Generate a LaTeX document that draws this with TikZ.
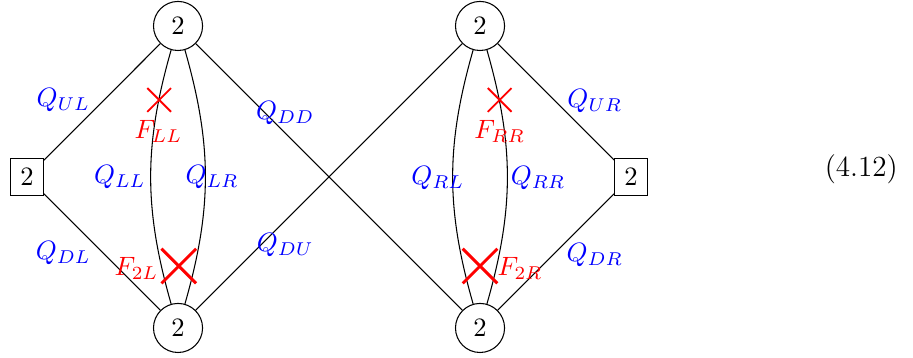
\documentclass[tikz,border=0pt]{standalone}
\usetikzlibrary{shapes.misc}

\tikzset{%
  gauge/.style={
    circle,
    draw,
    minimum size=0.65cm,
    inner sep=0pt
  },
  flavor/.style={
    rectangle,
    draw,
    inner sep=3.6pt
  },
  field/.style={text=blue},
  fterm/.style={text=red},
  fcross/.style={
    cross out,
    draw=red,
    line width=0.7pt,
    minimum size=0.29cm,
    inner sep=0pt
  },
  fcross big/.style={
    cross out,
    draw=red,
    line width=1.1pt,
    minimum size=0.42cm,
    inner sep=0pt
  },
}

\begin{document}
\begin{tikzpicture}
\useasboundingbox (-0.358,-2.397) rectangle (11.735,2.344);
\node[flavor] (fl) at (0,0) {2};
\node[gauge] (ul) at (2,2) {2};
\node[gauge] (dl) at (2,-2) {2};
\node[gauge] (ur) at (6,2) {2};
\node[gauge] (dr) at (6,-2) {2};
\node[flavor] (fr) at (8,0) {2};
\draw (fl) -- (ul);
\draw (fl) -- (dl);
\draw (ul) -- (dr);
\draw (dl) -- (ur);
\draw (ur) -- (fr);
\draw (dr) -- (fr);
\draw (ul) to[bend right=16] (dl);
\draw (ul) to[bend left=16] (dl);
\draw (ur) to[bend right=16] (dr);
\draw (ur) to[bend left=16] (dr);
\node[field] (qul) at (0.48,1.02) {$Q_{UL}$};
\node[field] (qdl) at (0.48,-1.01) {$Q_{DL}$};
\node[field] (qll) at (1.23,0) {$Q_{LL}$};
\node[field] (qlr) at (2.45,0) {$Q_{LR}$};
\node[field] (qdd) at (3.42,0.85) {$Q_{DD}$};
\node[field] (qdu) at (3.42,-0.90) {$Q_{DU}$};
\node[field] (qrl) at (5.44,-0.02) {$Q_{RL}$};
\node[field] (qrr) at (6.77,-0.02) {$Q_{RR}$};
\node[field] (qur) at (7.52,1.0) {$Q_{UR}$};
\node[field] (qdr) at (7.52,-1.03) {$Q_{DR}$};
\node[fcross] (xll) at (1.75,1.02) {};
\node[fterm] (fll) at (1.74,0.6) {$F_{LL}$};
\node[fcross big] (x2l) at (2.01,-1.18) {};
\node[fterm] (f2l) at (1.45,-1.21) {$F_{2L}$};
\node[fcross] (xrr) at (6.26,1.02) {};
\node[fterm] (frr) at (6.26,0.6) {$F_{RR}$};
\node[fcross big] (x2r) at (6.0,-1.18) {};
\node[fterm] (f2r) at (6.53,-1.21) {$F_{2R}$};
\node[anchor=base,font=\fontsize{11}{13}\selectfont] (eqno) at (11.05,0) {(4.12)};
\end{tikzpicture}
\end{document}
